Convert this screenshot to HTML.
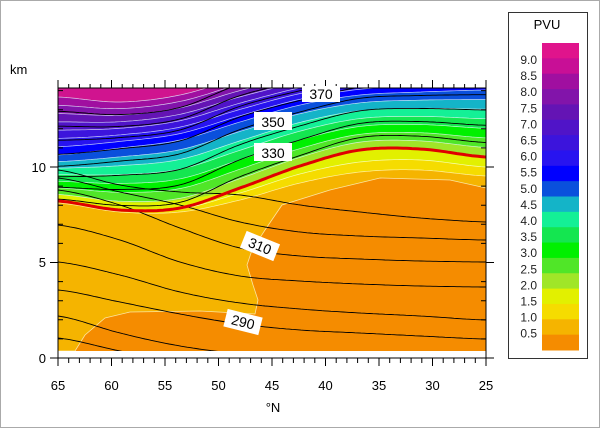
<!DOCTYPE html>
<html><head><meta charset="utf-8"><style>
html,body{margin:0;padding:0;background:#fff}
body{width:600px;height:428px;overflow:hidden;position:relative;font-family:"Liberation Sans",sans-serif}
</style></head><body>
<svg id="s" width="600" height="428" xmlns="http://www.w3.org/2000/svg" font-family="Liberation Sans, sans-serif">
<rect x="0.5" y="0.5" width="599" height="427" fill="#fff" stroke="#aaa"/>
<defs><clipPath id="c"><rect x="58" y="88" width="428" height="263"/></clipPath></defs>
<g id="plot" clip-path="url(#c)"></g>
<g id="ax" stroke="#000" stroke-width="1" fill="none"></g>
<g font-size="13" fill="#000">
<text x="10" y="74">km</text>
<text x="46" y="172" text-anchor="end">10</text>
<text x="46" y="267" text-anchor="end">5</text>
<text x="46" y="363" text-anchor="end">0</text>
<text x="273" y="412" text-anchor="middle">°N</text>
</g>
<g id="xl" font-size="13" text-anchor="middle"></g>
<g font-size="14" text-anchor="middle">
<rect x="302" y="86" width="38" height="16" fill="#fff"/><text x="321" y="99">370</text>
<rect x="254" y="112" width="38" height="18" fill="#fff"/><text x="273" y="127">350</text>
<rect x="254" y="143" width="38" height="18" fill="#fff"/><text x="273" y="158">330</text>
<g transform="translate(260,246) rotate(22)"><rect x="-18" y="-9" width="36" height="18" fill="#fff"/><text x="0" y="5">310</text></g>
<g transform="translate(243,322) rotate(14)"><rect x="-18" y="-9" width="36" height="18" fill="#fff"/><text x="0" y="5">290</text></g>
</g>
<rect x="508.5" y="12.5" width="79" height="346" fill="#fff" stroke="#333"/>
<text x="547" y="29" font-size="13" text-anchor="middle">PVU</text>
<g id="leg"></g>
</svg>
<script>
var NS="http://www.w3.org/2000/svg";
function el(p,t,a){var e=document.createElementNS(NS,t);for(var k in a)e.setAttribute(k,a[k]);p.appendChild(e);return e;}
var xs=[58,120,180,240,300,360,420,486];
function interp(ys,x){var n=xs.length;for(var i=0;i<n-1;i++){if(x<=xs[i+1]){var t=(x-xs[i])/(xs[i+1]-xs[i]);
var p0=ys[Math.max(i-1,0)],p1=ys[i],p2=ys[i+1],p3=ys[Math.min(i+2,n-1)];
var t2=t*t,t3=t2*t;return 0.5*((2*p1)+(-p0+p2)*t+(2*p0-5*p1+4*p2-p3)*t2+(-p0+3*p1-3*p2+p3)*t3);}}return ys[n-1];}
function curve(ys){var p=[];for(var x=58;x<=486;x+=3)p.push([x,interp(ys,x)]);if(p[p.length-1][0]!=486)p.push([486,interp(ys,486)]);return p;}
function upPoly(ys){var p=curve(ys);var d="M58,80 ";p.forEach(function(q){d+="L"+q[0]+","+q[1].toFixed(1)+" ";});d+="L486,80Z";return d;}
function line(ys){var p=curve(ys);return "M"+p.map(function(q){return q[0]+","+q[1].toFixed(1)}).join(" L");}
var g=document.getElementById("plot");
el(g,"rect",{x:58,y:88,width:428,height:263,fill:"#f58c00"});
el(g,"path",{d:"M75,351 L85,335 L105,318 L130,312 L200,311 L255,314 L258,300 L253,285 L247,265 L252,250 L265,230 L282,205 L330,190 L380,178 L450,180 L486,188 L486,80 L58,80 L58,351Z",fill:"#f5b400",stroke:"#fbe6a0","stroke-width":0.8});
var b10=[203,212,212,200,183,172,170,176];
var b15=[201,210,209,193,174,162,160,167];
var red=[201,210,208,188,166,150,149,157];
var k7=[155,148,140,122,105,95,92,90];
var k14=[97,102,95,78,65,55,55,55];
function lev(k,i){return k<=7?red[i]+(k7[i]-red[i])*k/7:k7[i]+(k14[i]-k7[i])*(k-7)/7;}
el(g,"path",{d:upPoly(b10),fill:"#f5dc00",stroke:"#fff3a0","stroke-width":0.7});
el(g,"path",{d:upPoly(b15),fill:"#e2f000",stroke:"#f8ffb0","stroke-width":0.7});
var cols=["#a0e628","#50e628","#00f000","#14e650","#14f096","#14b4c8","#0a50dc","#0000ff","#2814f0","#3c14dc","#5014c8","#6414b4","#8214aa","#a00fa0","#d0148f"];
for(var k=0;k<15;k++){var ys=[];for(var i=0;i<xs.length;i++)ys.push(lev(k,i)-(k==0&&i<3?8:0));
el(g,"path",{d:upPoly(ys),fill:cols[k],stroke:k>0?"#e8f8ff":"none","stroke-width":0.7,"stroke-opacity":0.8});}
var bl=[[338,351,362,370,375,380,385,390],[316,333,346,354,360,365,370,375],[290,302,314,324,330,333,336,339],[262,275,292,303,309,313,316,320],[225,240,262,276,281,284,286,287],[190,205,228,248,256,259,261,262],[178,192,205,222,232,236,238,240],[170,185,192,195,205,212,218,222]];
bl.forEach(function(ys){el(g,"path",{d:line(ys),fill:"none",stroke:"#000","stroke-width":0.9});});
[1.2,3,4.6,6.2,7.8,9.5,11.2,13].forEach(function(k){var ys=[];for(var i=0;i<xs.length;i++)ys.push(lev(k,i)+ (i<3?6:0)-(i>4?3:0));
el(g,"path",{d:line(ys),fill:"none",stroke:"#000","stroke-width":0.9});});
el(g,"path",{d:line(red),fill:"none",stroke:"#e00000","stroke-width":3});
var a=document.getElementById("ax");
el(a,"rect",{x:58,y:88,width:428,height:270,fill:"none"});
var d="";
for(var lat=65;lat>=25;lat--){var x=58+(65-lat)*10.7;var maj=lat%5==0;d+="M"+x+",358 L"+x+","+(maj?366:363)+" M"+x+",88 L"+x+","+(maj?80:84)+" ";
if(maj){var t=el(document.getElementById("xl"),"text",{x:x,y:390});t.textContent=lat;}}
for(var km=0;km<=14;km++){var y=358-km*19.1;var maj=km%5==0;d+="M58,"+y+" L"+(maj?50:63)+","+y+" M486,"+y+" L"+(maj?494:481)+","+y+" ";}
el(a,"path",{d:d});
var lc=["#e0148c","#c80f96","#a00fa0","#8214aa","#6414b4","#5014c8","#3c14dc","#2814f0","#0000ff","#0a50dc","#14b4c8","#14f096","#14e650","#00f000","#50e628","#a0e628","#e2f000","#f5dc00","#f5b400","#f58c00"];
var L=document.getElementById("leg");var h=307/lc.length;
lc.forEach(function(c,i){el(L,"rect",{x:542,y:43+i*h,width:37,height:h+0.5,fill:c});});
var labs=["9.0","8.5","8.0","7.5","7.0","6.5","6.0","5.5","5.0","4.5","4.0","3.5","3.0","2.5","2.0","1.5","1.0","0.5"];
labs.forEach(function(s,i){var t=el(L,"text",{x:537,y:64+i*16.1,"font-size":12,"text-anchor":"end",fill:"#222"});t.textContent=s;});
</script>
</body></html>
